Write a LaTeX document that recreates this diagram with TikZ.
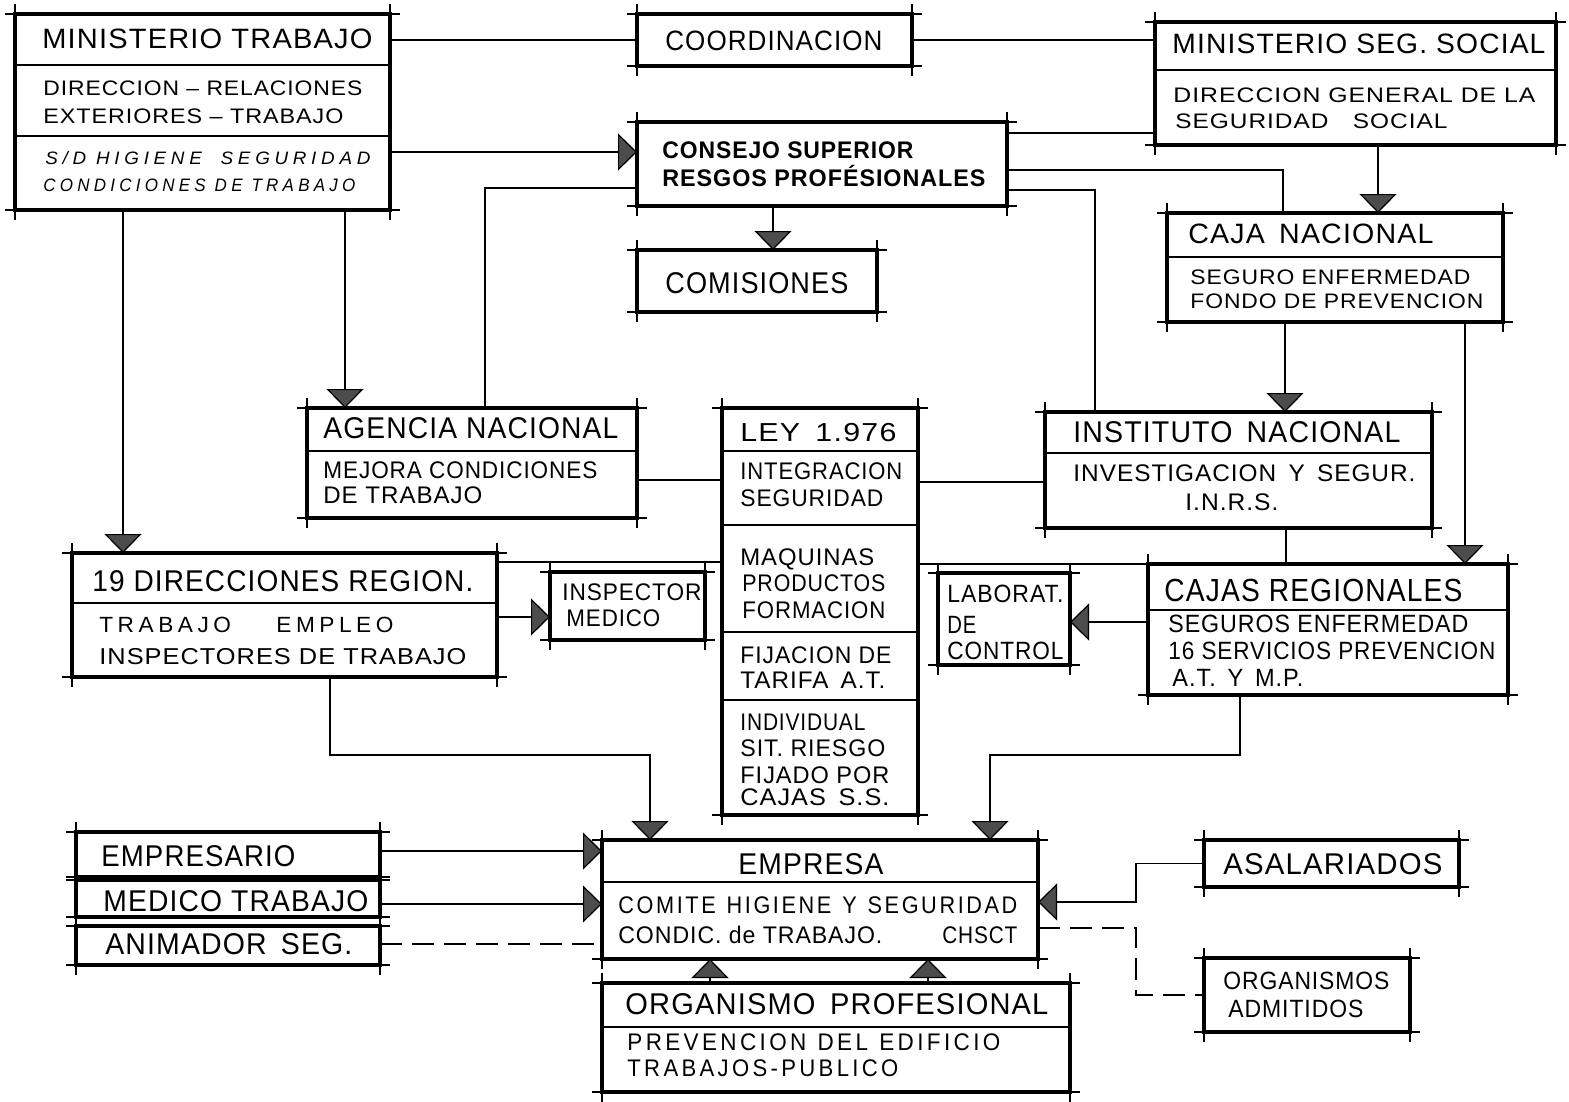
\documentclass[tikz,border=0pt]{standalone}
\usepackage{fontspec}
\setmainfont{Liberation Sans}[LetterSpace=4]
\usepackage{graphicx}
\usetikzlibrary{arrows.meta,calc}
\newdimen\pxu \pxu=0.5pt
\newcommand\myfw[2]{\resizebox{#1\pxu}{\height}{#2}}
\newcommand\mytx[6]{\node[anchor=base west,inner sep=0pt,font=\fontsize{#5}{#5}\selectfont] (#1) at ({#2},{#3+0.716*#5}) {\myfw{#4}{#6}};}
\newcommand\mybox[5]{\node[boxst,minimum width={(#4-#2)*0.5pt},minimum height={(#5-#3)*0.5pt}] (#1) at ({(#2+#4)/2},{(#3+#5)/2}) {};}
\newcommand\mydiv[2]{\draw[dv] ($(#1.north west)+(0,#2)$) -- ($(#1.north east)+(0,#2)$);}
\tikzset{
 boxst/.style={draw,line width=1.9pt,inner sep=0pt,outer sep=0pt},
 tk/.style={line width=0.7pt},
 dv/.style={line width=1pt},
 ln/.style={line width=0.8pt},
 ar/.style={ln,-{Triangle[width=18.5pt,length=9.5pt,fill=black!70,line width=0.6pt]}},
 dsh/.style={dash pattern=on 11pt off 5pt},
}
\begin{document}
\begin{tikzpicture}[x=0.5pt,y=-0.5pt]
\fill[white] (0,0) rectangle (1569,1102);
\useasboundingbox (0,0) rectangle (1569,1102);

% boxes
\mybox{mt}{15}{14}{390}{210}
\mybox{coord}{637}{14}{912}{66}
\mybox{mss}{1155}{22}{1556}{145}
\mybox{cons}{637}{122}{1007}{206}
\mybox{com}{637}{250}{877}{312}
\mybox{cn}{1167}{213}{1503}{322}
\mybox{ag}{307}{408}{637}{518}
\mybox{ley}{722}{408}{918}{815}
\mybox{inst}{1045}{412}{1432}{528}
\mybox{dir}{72}{553}{497}{677}
\mybox{insp}{550}{572}{705}{640}
\mybox{lab}{938}{573}{1070}{665}
\mybox{cr}{1148}{564}{1508}{695}
\mybox{emp}{602}{840}{1038}{959}
\mybox{op}{602}{983}{1070}{1092}
\mybox{es}{76}{832}{380}{877}
\mybox{med}{76}{880}{380}{917}
\mybox{an}{76}{926}{380}{965}
\mybox{asa}{1204}{840}{1459}{887}
\mybox{oa}{1204}{958}{1410}{1032}

% corner ticks
\foreach \n in {mt,coord,mss,cons,com,cn,ag,ley,inst,dir,insp,lab,cr,emp,op,es,med,an,asa,oa}{
 \draw[tk] ([xshift=-5pt]\n.north west) -- ([xshift=5pt]\n.north east);
 \draw[tk] ([xshift=-5pt]\n.south west) -- ([xshift=5pt]\n.south east);
 \draw[tk] ([yshift=5pt]\n.north west) -- ([yshift=-5pt]\n.south west);
 \draw[tk] ([yshift=5pt]\n.north east) -- ([yshift=-5pt]\n.south east);
}

% dividers
\mydiv{mt}{51}
\mydiv{mt}{122}
\mydiv{mss}{48}
\mydiv{cn}{44}
\mydiv{ag}{43}
\mydiv{ley}{43}
\mydiv{ley}{117}
\mydiv{ley}{224}
\mydiv{ley}{292}
\mydiv{inst}{41}
\mydiv{dir}{50}
\mydiv{cr}{46}
\mydiv{emp}{42}
\mydiv{op}{44}

% level coordinates
\coordinate (Y133) at (0,133);
\coordinate (Y152) at (0,152);
\coordinate (Y170) at (0,170);
\coordinate (Y188) at (0,188);
\coordinate (Y190) at (0,190);
\coordinate (Y480) at (0,480);
\coordinate (Y482) at (0,482);
\coordinate (Y562) at (0,562);
\coordinate (Y617) at (0,617);
\coordinate (Y622) at (0,622);
\coordinate (Y755) at (0,755);
\coordinate (Y851) at (0,851);
\coordinate (Y902) at (0,902);
\coordinate (Y904) at (0,904);
\coordinate (Y928) at (0,928);
\coordinate (Y944) at (0,944);
\coordinate (X123) at (123,0);
\coordinate (X330) at (330,0);
\coordinate (X345) at (345,0);
\coordinate (X485) at (485,0);
\coordinate (X650) at (650,0);
\coordinate (X710) at (710,0);
\coordinate (X773) at (773,0);
\coordinate (X928) at (928,0);
\coordinate (X990) at (990,0);
\coordinate (X1095) at (1095,0);
\coordinate (X1136) at (1136,0);
\coordinate (X1240) at (1240,0);
\coordinate (X1283) at (1283,0);
\coordinate (X1285) at (1285,0);
\coordinate (X1286) at (1286,0);
\coordinate (X1378) at (1378,0);
\coordinate (X1465) at (1465,0);

% connectors
\draw[ln] (mt.east |- coord.west) -- (coord.west);
\draw[ln] (coord.east) -- (coord.east -| mss.west);
\draw[ar] (mt.east |- Y152) -- (cons.west |- Y152);
\draw[ln] (mss.west |- Y133) -- (cons.east |- Y133);
\draw[ln] (cons.east |- Y170) -| (cn.north -| X1283);
\draw[ln] (cons.east |- Y190) -| (inst.north -| X1095);
\draw[ln] (cons.west |- Y188) -| (ag.north -| X485);
\draw[ar] (cons.south -| X773) -- (com.north -| X773);
\draw[ar] (mt.south -| X345) -- (ag.north -| X345);
\draw[ar] (mt.south -| X123) -- (dir.north -| X123);
\draw[ar] (mss.south -| X1378) -- (cn.north -| X1378);
\draw[ar] (cn.south -| X1285) -- (inst.north -| X1285);
\draw[ar] (cn.south -| X1465) -- (cr.north -| X1465);
\draw[ln] (ag.east |- Y480) -- (ley.west |- Y480);
\draw[ln] (ley.east |- Y482) -- (inst.west |- Y482);
\draw[ln] (dir.east |- Y562) -- (ley.west |- Y562);
\draw[ln] (ley.east |- cr.north) -- (cr.north west);
\draw[ln] (inst.south -| X1286) -- (cr.north -| X1286);
\draw[ar] (dir.east |- Y617) -- (insp.west |- Y617);
\draw[ar] (cr.west |- Y622) -- (lab.east |- Y622);
\draw[ar] (dir.south -| X330) |- (Y755 -| X650) -- (emp.north -| X650);
\draw[ar] (cr.south -| X1240) |- (Y755 -| X990) -- (emp.north -| X990);
\draw[ar] (es.east |- Y851) -- (emp.west |- Y851);
\draw[ar] (med.east |- Y904) -- (emp.west |- Y904);
\draw[ln,dsh] (an.east |- Y944) -- (emp.west |- Y944);
\draw[ar] (asa.west) -| (X1136 |- Y902) -- (emp.east |- Y902);
\draw[ln,dsh] (emp.east |- Y928) -| (X1136 |- oa.west) -- (oa.west);
\draw[ar] (op.north -| X710) -- (emp.south -| X710);
\draw[ar] (op.north -| X928) -- (emp.south -| X928);

% texts
\mytx{mt1}{42}{38}{330}{14}{MINISTERIO TRABAJO}
\mytx{mt2}{43}{88}{319}{10.5}{DIRECCION – RELACIONES}
\mytx{mt3}{43}{116}{300}{10.5}{EXTERIORES – TRABAJO}
\mytx{mt4}{45}{158}{325}{9}{\addfontfeatures{LetterSpace=25}\itshape S/D HIGIENE\quad SEGURIDAD}
\mytx{mt5}{43}{185}{312}{9}{\addfontfeatures{LetterSpace=25}\itshape CONDICIONES DE TRABAJO}
\mytx{co1}{665}{40}{217}{14}{COORDINACION}
\mytx{cs1}{662}{150}{251}{12}{\bfseries CONSEJO SUPERIOR}
\mytx{cs2}{662}{178}{323}{12}{\bfseries RESGOS PROFÉSIONALES}
\mytx{cm1}{665}{283}{183}{15}{COMISIONES}
\mytx{ms1}{1172}{43}{373}{14}{MINISTERIO SEG. SOCIAL}
\mytx{ms2}{1173}{95}{362}{10.5}{DIRECCION GENERAL DE LA}
\mytx{ms3}{1175}{121}{272}{10.5}{SEGURIDAD\quad SOCIAL}
\mytx{cn1}{1188}{233}{245}{14}{CAJA\enspace NACIONAL}
\mytx{cn2}{1190}{277}{280}{10.5}{SEGURO ENFERMEDAD}
\mytx{cn3}{1190}{301}{293}{10.5}{FONDO DE PREVENCION}
\mytx{ag1}{323}{428}{295}{15}{AGENCIA NACIONAL}
\mytx{ag2}{323}{470}{274}{12}{MEJORA CONDICIONES}
\mytx{ag3}{323}{495}{159}{12}{DE TRABAJO}
\mytx{ly1}{740}{432}{156}{13}{LEY\enspace 1.976}
\mytx{ly2}{740}{471}{162}{12}{INTEGRACION}
\mytx{ly3}{740}{498}{143}{12}{SEGURIDAD}
\mytx{ly4}{740}{557}{134}{12}{MAQUINAS}
\mytx{ly5}{742}{583}{143}{12}{PRODUCTOS}
\mytx{ly6}{742}{610}{143}{12}{FORMACION}
\mytx{ly7}{740}{655}{151}{12}{FIJACION DE}
\mytx{ly8}{740}{680}{145}{12}{TARIFA\enspace A.T.}
\mytx{ly9}{740}{722}{125}{12}{INDIVIDUAL}
\mytx{ly10}{740}{748}{145}{12}{SIT. RIESGO}
\mytx{ly11}{740}{775}{149}{12}{FIJADO POR}
\mytx{ly12}{740}{797}{149}{12}{CAJAS\enspace S.S.}
\mytx{in1}{1073}{432}{327}{15}{INSTITUTO\enspace NACIONAL}
\mytx{in2}{1073}{473}{342}{12}{INVESTIGACION\enspace Y\enspace SEGUR.}
\mytx{in3}{1185}{502}{93}{12}{I.N.R.S.}
\mytx{dr1}{92}{581}{381}{15}{19 DIRECCIONES REGION.}
\mytx{dr2}{99}{625}{294}{11}{\addfontfeatures{LetterSpace=20}TRABAJO\hspace{2em}EMPLEO}
\mytx{dr3}{99}{656}{367}{11.5}{INSPECTORES DE TRABAJO}
\mytx{ip1}{562}{592}{139}{12}{INSPECTOR}
\mytx{ip2}{566}{618}{94}{12}{MEDICO}
\mytx{lb1}{947}{594}{116}{12.5}{LABORAT.}
\mytx{lb2}{947}{625}{29}{12.5}{DE}
\mytx{lb3}{947}{651}{116}{12.5}{CONTROL}
\mytx{cr1}{1164}{590}{298}{16}{CAJAS REGIONALES}
\mytx{cr2}{1168}{624}{300}{12.5}{SEGUROS ENFERMEDAD}
\mytx{cr3}{1168}{651}{327}{12.5}{16 SERVICIOS PREVENCION}
\mytx{cr4}{1172}{678}{131}{12.5}{A.T.\enspace Y\enspace M.P.}
\mytx{em1}{738}{864}{145}{15}{EMPRESA}
\mytx{em2}{618}{905}{399}{12}{\addfontfeatures{LetterSpace=12}COMITE\enspace HIGIENE\enspace Y\enspace SEGURIDAD}
\mytx{em3}{618}{935}{264}{12}{CONDIC. de TRABAJO.}
\mytx{em4}{942}{935}{75}{12}{CHSCT}
\mytx{op1}{625}{1004}{423}{15}{ORGANISMO\enspace PROFESIONAL}
\mytx{op2}{627}{1042}{373}{12}{\addfontfeatures{LetterSpace=15}PREVENCION\enspace DEL\enspace EDIFICIO}
\mytx{op3}{627}{1068}{271}{12}{\addfontfeatures{LetterSpace=15}TRABAJOS-PUBLICO}
\mytx{es1}{101}{856}{194}{15}{EMPRESARIO}
\mytx{md1}{103}{901}{265}{15}{MEDICO TRABAJO}
\mytx{an1}{105}{944}{247}{15}{ANIMADOR\enspace SEG.}
\mytx{as1}{1223}{864}{219}{15}{ASALARIADOS}
\mytx{oa1}{1223}{981}{166}{12.5}{ORGANISMOS}
\mytx{oa2}{1228}{1009}{135}{12.5}{ADMITIDOS}
\end{tikzpicture}
\end{document}
